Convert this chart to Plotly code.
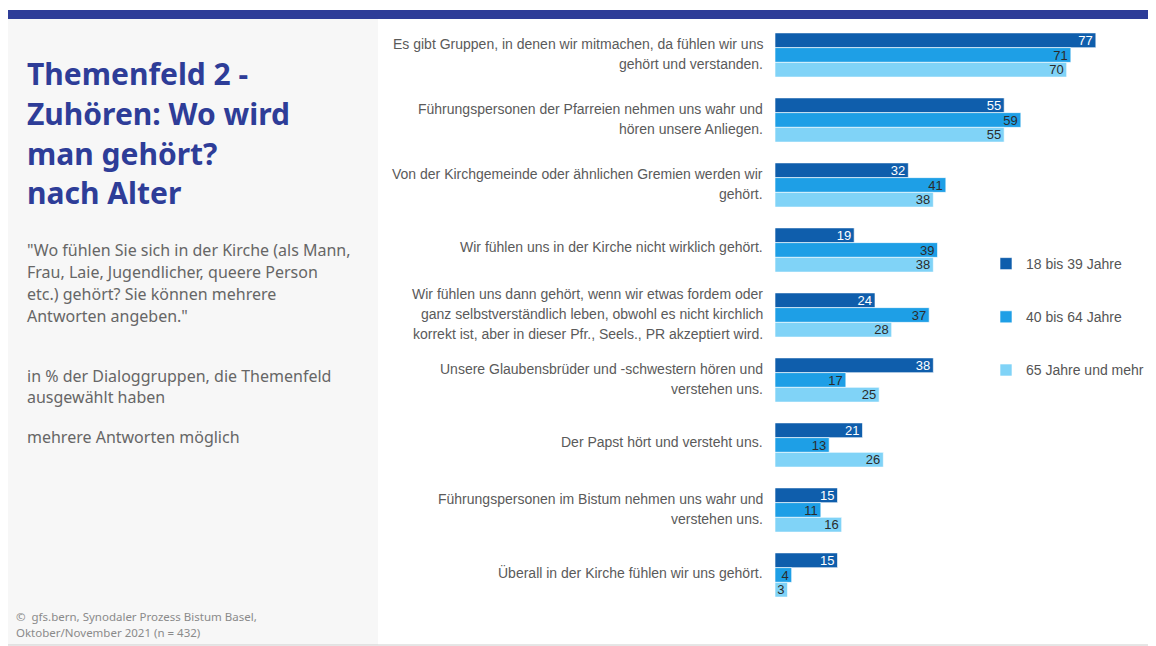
import plotly.graph_objects as go

W, H = 1156, 646
OFF = 8  # page body margin shifts the figure, so positions are given in screen pixels

categories = [
    "Es gibt Gruppen, in denen wir mitmachen, da fühlen wir uns<br>gehört und verstanden.",
    "Führungspersonen der Pfarreien nehmen uns wahr und<br>hören unsere Anliegen.",
    "Von der Kirchgemeinde oder ähnlichen Gremien werden wir<br>gehört.",
    "Wir fühlen uns in der Kirche nicht wirklich gehört.",
    "Wir fühlen uns dann gehört, wenn wir etwas fordem oder<br>ganz selbstverständlich leben, obwohl es nicht kirchlich<br>korrekt ist, aber in dieser Pfr., Seels., PR akzeptiert wird.",
    "Unsere Glaubensbrüder und -schwestern hören und<br>verstehen uns.",
    "Der Papst hört und versteht uns.",
    "Führungspersonen im Bistum nehmen uns wahr und<br>verstehen uns.",
    "Überall in der Kirche fühlen wir uns gehört.",
]
age_18_39 = [77, 55, 32, 19, 24, 38, 21, 15, 15]
age_40_64 = [71, 59, 41, 39, 37, 17, 13, 11, 4]
age_65 = [70, 55, 38, 38, 28, 25, 26, 16, 3]
series_names = ["18 bis 39 Jahre", "40 bis 64 Jahre", "65 Jahre und mehr"]

title_lines = ["Themenfeld 2 -", "Zuhören: Wo wird", "man gehört?", "nach Alter"]
question_lines = [
    "\"Wo fühlen Sie sich in der Kirche (als Mann,",
    "Frau, Laie, Jugendlicher, queere Person",
    "etc.) gehört? Sie können mehrere",
    "Antworten angeben.\"",
]
basis_lines = ["in % der Dialoggruppen, die Themenfeld", "ausgewählt haben"]
note_line = "mehrere Antworten möglich"
source_lines = ["©  gfs.bern, Synodaler Prozess Bistum Basel,", "Oktober/November 2021 (n = 432)"]

navy = "#2E3D98"
colors = ["#0F5EAC", "#1E9FE6", "#80D3F7"]
text_colors = ["white", "#2b2b2b", "#2b2b2b"]
narrow = "Liberation Sans, Arial, sans-serif"
sans = "Noto Sans, sans-serif"


def px_x(p):
    return (p - OFF) / W


def px_y(p):
    return 1 - (p - OFF) / H


fig = go.Figure()
ids = list(range(len(categories)))
for name, vals, col, tcol in zip(series_names, [age_18_39, age_40_64, age_65], colors, text_colors):
    fig.add_trace(
        go.Bar(
            y=ids,
            x=vals,
            orientation="h",
            name=name,
            legendgroup=name,
            marker=dict(color=col, line=dict(color="rgba(255,255,255,0.6)", width=1)),
            text=vals,
            textposition="inside",
            insidetextanchor="end",
            constraintext="none",
            textangle=0,
            textfont=dict(family=narrow, size=13, color=tcol),
            cliponaxis=False,
        )
    )

ann = []
# category labels, each line placed separately
for i, lab in enumerate(categories):
    lines = lab.split("<br>")
    n = len(lines)
    for k, ln in enumerate(lines):
        ann.append(dict(
            x=px_x(765), xref="paper", xanchor="right",
            y=i, yref="y", yanchor="middle",
            yshift=-(k - (n - 1) / 2) * 20 + (3 if n == 1 else 1),
            text=ln, showarrow=False, align="center",
            font=dict(family=narrow, size=14, color="#5a5a5a"),
        ))


def left_text(lines, x0, y0, step, size, color, bold=False, family=sans):
    for k, ln in enumerate(lines):
        t = "<b>" + ln + "</b>" if bold else ln
        ann.append(dict(
            x=px_x(x0), xref="paper", xanchor="left",
            y=px_y(y0 + k * step), yref="paper", yanchor="middle",
            text=t, showarrow=False, font=dict(family=family, size=size, color=color),
        ))


left_text(title_lines, 25, 73, 40, 30, navy, bold=True)
left_text(question_lines, 25, 250, 22, 16, "#666666")
left_text(basis_lines, 25, 376, 21, 16, "#666666")
left_text([note_line], 25, 437, 21, 16, "#666666")
left_text(source_lines, 14, 616, 16, 11.5, "#8a8a8a")

shapes = [
    dict(type="rect", xref="paper", yref="paper", x0=px_x(8), x1=px_x(378),
         y0=px_y(645), y1=px_y(19), fillcolor="#F7F7F7", line=dict(width=0), layer="below"),
    dict(type="rect", xref="paper", yref="paper", x0=px_x(8), x1=1,
         y0=px_y(19), y1=px_y(10), fillcolor=navy, line=dict(width=0)),
    dict(type="line", xref="paper", yref="paper", x0=px_x(8), x1=1,
         y0=px_y(645), y1=px_y(645), line=dict(color="#cccccc", width=1)),
]

fig.update_layout(
    width=W,
    height=H,
    margin=dict(l=0, r=0, t=0, b=0),
    paper_bgcolor="white",
    plot_bgcolor="rgba(0,0,0,0)",
    barmode="group",
    bargap=0.32,
    bargroupgap=0,
    showlegend=True,
    legend=dict(
        x=px_x(986), xanchor="left", y=px_y(248), yanchor="top",
        font=dict(family=narrow, size=14, color="#555555"),
        tracegroupgap=32, bgcolor="rgba(0,0,0,0)",
    ),
    annotations=ann,
    shapes=shapes,
)
fig.update_xaxes(domain=[px_x(775), px_x(1150)], range=[0, 90],
                 showticklabels=False, showgrid=False, zeroline=False)
fig.update_yaxes(domain=[px_y(607.5), px_y(22.5)], range=[8.5, -0.5],
                 showticklabels=False, showgrid=False, zeroline=False)

fig.write_html("out.html")
